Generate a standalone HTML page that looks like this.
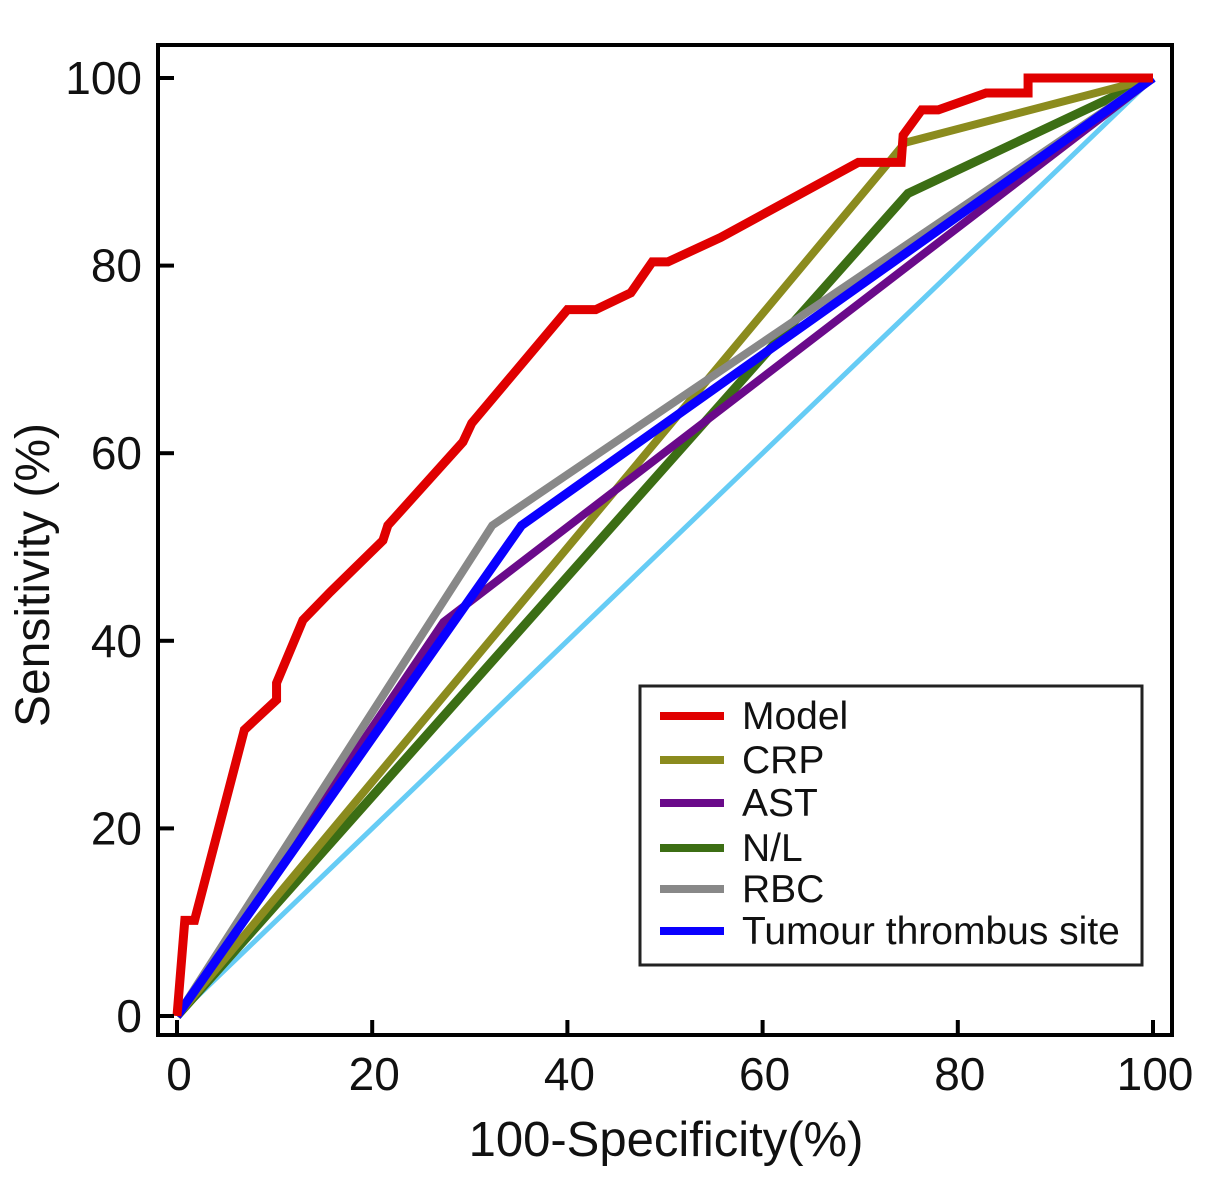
<!DOCTYPE html>
<html><head><meta charset="utf-8"><style>
body{margin:0;background:#fff;}
svg text{font-family:"Liberation Sans",sans-serif;fill:#111;}
</style></head><body>
<svg width="1205" height="1178" xmlns="http://www.w3.org/2000/svg">
<g id="plot"></g>
</svg>
<script>
const ticks=[0,20,40,60,80,100];
const modelX=[0,0.8,1.8,6.9,10.2,10.2,12.9,15.7,21.1,21.6,29.3,30.2,40,42.9,46.5,48.7,50.3,55.7,69.8,74.2,74.4,76.3,78,82.9,87.2,87.2,100];
const modelY=[0,10.2,10.2,30.5,33.7,35.5,42.2,45.2,50.7,52.3,61.2,63.2,75.3,75.3,77.1,80.4,80.4,83,91,91,93.9,96.6,96.6,98.4,98.4,100,100];
const crpX=[0,74.6,100], crpY=[0,93.1,100];
const astX=[0,27.3,100], astY=[0,42,100];
const nlX=[0,74.9,100], nlY=[0,87.7,100];
const rbcX=[0,32.3,100], rbcY=[0,52.3,100];
const tumX=[0,35.3,100], tumY=[0,52.3,100];
const refX=[0,100], refY=[0,100];
const legendLabels=["Model","CRP","AST","N/L","RBC","Tumour thrombus site"];

const NS="http://www.w3.org/2000/svg";
const g=document.getElementById('plot');
const sx=v=>177+9.76*v, sy=v=>1016-9.38*v;
function mk(t,a){const e=document.createElementNS(NS,t);for(const k in a)e.setAttribute(k,a[k]);g.appendChild(e);return e;}
function series(xs,ys,color,w,name){
  const p=mk('polyline',{points:xs.map((x,i)=>sx(x)+','+sy(ys[i])).join(' '),fill:'none',stroke:color,'stroke-width':w,'stroke-linejoin':'miter'});
  
  
}
series(refX,refY,'#66ccf5',5,'reference-line');
series(nlX,nlY,'#3c6e14',9,'nl-curve');
series(crpX,crpY,'#8b8b1e',8,'crp-curve');
series(astX,astY,'#6a0a8a',8,'ast-curve');
series(rbcX,rbcY,'#888888',8,'rbc-curve');
series(tumX,tumY,'#0a00ff',9,'tumour-curve');
series(modelX,modelY,'#e00000',9,'model-curve');
const f=mk('rect',{x:158,y:45,width:1014,height:990,fill:'none',stroke:'#000','stroke-width':4});


ticks.forEach(t=>{
  const a=mk('line',{x1:158,x2:174,y1:sy(t),y2:sy(t),stroke:'#000','stroke-width':4});
  
  
  const l=mk('text',{x:142,y:sy(t)+16,'text-anchor':'end','font-size':46});l.textContent=t;
  
  
  const b=mk('line',{x1:sx(t),x2:sx(t),y1:1035,y2:1020,stroke:'#000','stroke-width':4});
  
  
  const m=mk('text',{x:sx(t)+2,y:1090,'text-anchor':'middle','font-size':46});m.textContent=t;
  
  
});
const xt=mk('text',{x:666,y:1156,'text-anchor':'middle','font-size':49});xt.textContent='100-Specificity(%)';


const yt=mk('text',{x:0,y:0,'text-anchor':'middle','font-size':48,transform:'translate(49,575) rotate(-90)'});yt.textContent='Sensitivity (%)';


const lb=mk('rect',{x:640,y:686,width:502,height:279,fill:'#fff',stroke:'#222','stroke-width':3});


const lc=['#e00000','#8b8b1e','#6a0a8a','#3c6e14','#888888','#0a00ff'];
const ly=[716,760,803,848,889,931];
legendLabels.forEach((s,i)=>{
  const ln=mk('line',{x1:660,x2:724,y1:ly[i],y2:ly[i],stroke:lc[i],'stroke-width':8});
  
  
  const tx=mk('text',{x:742,y:ly[i]+13,'font-size':39});tx.textContent=s;
  
  
});
</script>
</body></html>
